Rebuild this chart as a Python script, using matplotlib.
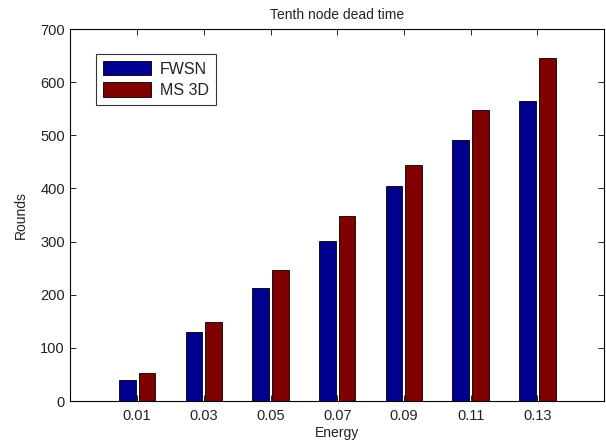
import numpy as np
import matplotlib
matplotlib.use("Agg")
import matplotlib.pyplot as plt

# values
energy_labels = ['0.01', '0.03', '0.05', '0.07', '0.09', '0.11', '0.13']
fwsn_rounds = [40, 130, 213, 301, 405, 491, 564]
ms3d_rounds = [52, 149, 247, 348, 445, 547, 645]

COLORS = {'fwsn': '#00008F', 'ms3d': '#800000'}

plt.rcParams['font.family'] = ['Liberation Sans', 'DejaVu Sans']

fig = plt.figure(figsize=(6.06, 4.43), dpi=100)
ax = fig.add_axes([0.1163, 0.0948, 0.8804, 0.8397])

x = np.arange(1, len(energy_labels) + 1)
w = 0.25
ax.bar(x - 0.148, fwsn_rounds, w, color=COLORS['fwsn'], edgecolor='black',
       linewidth=0.6, label='FWSN')
ax.bar(x + 0.148, ms3d_rounds, w, color=COLORS['ms3d'], edgecolor='black',
       linewidth=0.6, label='MS 3D')

ax.set_xlim(0, 8)
ax.set_ylim(0, 700)
ax.set_xticks(x)
ax.set_xticklabels(energy_labels)
ax.set_yticks(np.arange(0, 701, 100))
ax.tick_params(direction='in', top=True, right=True, length=4, labelsize=10.5,
               width=0.6, labelcolor='#222222')
ax.tick_params(axis='x', pad=6)
ax.tick_params(axis='y', pad=4)
for s in ax.spines.values():
    s.set_linewidth(0.8)

ax.set_title('Tenth node dead time', fontsize=10, pad=7, color='#222222')
ax.set_xlabel('Energy', fontsize=10, labelpad=2, color='#222222')
ax.set_ylabel('Rounds', fontsize=10, labelpad=9, color='#222222')

leg = ax.legend(loc='upper left', bbox_to_anchor=(0.048, 0.933), fontsize=11.5,
                frameon=True, fancybox=False, handlelength=3.0, handleheight=1.0,
                handletextpad=0.55, labelspacing=0.35, borderpad=0.45,
                borderaxespad=0)
leg.get_frame().set_edgecolor('black')
leg.get_frame().set_linewidth(0.8)
for t in leg.get_texts():
    t.set_color('#222222')

plt.savefig('out.png', dpi=100)
